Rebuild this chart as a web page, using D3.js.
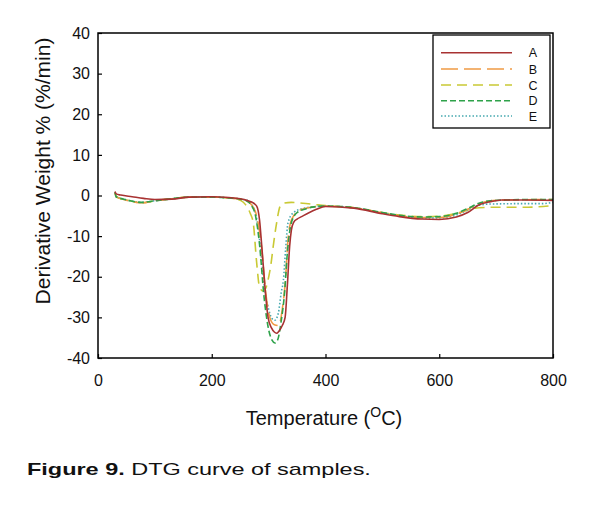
<!DOCTYPE html>
<html><head><meta charset="utf-8">
<script src="https://cdn.jsdelivr.net/npm/d3@7"></script>
<style>body{margin:0;background:#fff;} svg{display:block;font-family:"Liberation Sans",Arial,sans-serif;}</style>
</head><body>
<svg id="c" width="605" height="506"></svg>
<script>
const seriesNames = ["A","B","C","D","E"];
const seriesColors = ["#a83232","#f09a44","#c9c934","#2ea24a","#47a9b0"];
const seriesDash = ["none","17,6","10,6","6,3","1.5,2"];

const tA = [30,32,40,60,80,100,130,160,200,230,250,262,270,279,284,288,295,299,305,310,314,318,324,329,333,337,340,344,350,358,370,384,400,450,500,530,570,600,630,650,670,690,710,750,800];
const vA = [1.0,0.4,0.1,-0.3,-0.7,-1.0,-0.9,-0.4,-0.3,-0.5,-0.8,-1.2,-1.6,-2.6,-6,-12.6,-24.9,-30,-32.6,-33.6,-33.9,-33.4,-32,-30,-22,-12.4,-8.5,-6.6,-5.8,-5.2,-4.3,-3.4,-2.7,-3.1,-4.5,-5.2,-5.8,-5.9,-5.3,-4.2,-2.3,-1.5,-1.1,-1.1,-1.2];

const tB = [30,32,45,60,77,100,130,160,200,230,250,262,270,279,287,295,302,310,318,324,330,334,338,345,355,370,400,450,500,530,570,600,630,650,670,690,720,800];
const vB = [0.8,-0.3,-1.0,-1.5,-1.8,-1.3,-0.8,-0.4,-0.4,-0.6,-0.9,-1.3,-2.3,-5,-12,-24,-30,-31.8,-32,-28,-20,-11,-7,-4.8,-3.6,-3.0,-2.6,-3.0,-4.3,-5.0,-5.4,-5.4,-4.6,-3.4,-2.0,-1.3,-1.1,-1.0];

const tC = [30,32,50,77,100,130,160,200,230,245,255,263,268,273,279,284,290,295,299,304,308,314,320,326,340,360,380,400,450,500,530,570,600,630,650,670,700,750,800];
const vC = [0.8,-0.3,-1.1,-1.8,-1.3,-0.8,-0.4,-0.4,-0.6,-0.9,-1.6,-3,-4.5,-6.8,-16.6,-22.5,-23.5,-22.8,-20.8,-17,-12.6,-6.8,-2.7,-1.9,-1.7,-1.9,-2.2,-2.5,-3.0,-4.2,-4.8,-5.2,-5.1,-4.4,-3.6,-3.0,-2.9,-2.9,-2.5];

const tD = [30,32,45,60,77,100,130,160,200,230,250,262,270,277,284,292,300,306,311,316,322,328,333,338,345,352,365,380,400,450,500,530,570,600,630,650,670,690,720,760,800];
const vD = [0.8,-0.3,-0.9,-1.4,-1.7,-1.3,-0.8,-0.4,-0.4,-0.6,-0.9,-1.4,-2.5,-5,-12,-25,-33,-35.6,-36.3,-35.5,-31,-24,-14,-8,-5,-4.0,-3.3,-2.8,-2.6,-3.0,-4.2,-4.9,-5.3,-5.2,-4.4,-3.2,-1.9,-1.3,-1.1,-1.0,-1.0];

const tE = [30,32,45,60,77,100,130,160,200,230,250,262,270,278,285,292,300,306,311,317,322,326,330,334,343,360,400,450,500,530,570,600,630,650,670,690,750,780,800];
const vE = [0.8,-0.3,-0.9,-1.4,-1.7,-1.3,-0.8,-0.4,-0.4,-0.6,-0.9,-1.2,-2.2,-5,-12,-22,-28,-30.3,-30.7,-29,-24,-20.8,-13,-6.8,-4.3,-3.2,-2.6,-3.0,-4.3,-5.0,-5.5,-5.5,-4.8,-3.6,-2.4,-2.1,-2.0,-2.0,-1.7];

const xTicks = [0,200,400,600,800];
const yTicks = [-40,-30,-20,-10,0,10,20,30,40];

const seriesT = [tA,tB,tC,tD,tE];
const seriesV = [vA,vB,vC,vD,vE];

const svg = d3.select("#c");
const x = d3.scaleLinear().domain([0,800]).range([98,553]);
const y = d3.scaleLinear().domain([-40,40]).range([358,33]);

// axes
const gx = svg.append("g").attr("transform","translate(0,358)")
  .call(d3.axisBottom(x).tickValues(xTicks).tickFormat(d=>String(d)).tickSizeInner(-4).tickSizeOuter(0).tickPadding(17));
const gy = svg.append("g").attr("transform","translate(98,0)")
  .call(d3.axisLeft(y).tickValues(yTicks).tickFormat(d=>String(d)).tickSizeInner(-4).tickSizeOuter(0).tickPadding(8));
[gx,gy].forEach(g=>{
  g.select(".domain").remove();
  g.selectAll(".tick line").attr("stroke","#000").attr("stroke-width",1.2);
  g.selectAll(".tick text").attr("font-size",16).attr("fill","#111").attr("font-family","Liberation Sans, Arial, sans-serif");
});

// lines
const line = d3.line().x(d=>x(d[0])).y(d=>y(d[1])).curve(d3.curveMonotoneX);
const order = [2,4,1,3,0];
order.forEach(i=>{
  const pts = seriesT[i].map((t,j)=>[t,seriesV[i][j]]);
  svg.append("path").datum(pts).attr("d",line)
    .attr("fill","none").attr("stroke",seriesColors[i]).attr("stroke-width",1.6)
    .attr("stroke-dasharray",seriesDash[i]==="none"?null:seriesDash[i]);
});

// frame
svg.append("rect").attr("x",98).attr("y",33).attr("width",455).attr("height",325)
  .attr("fill","none").attr("stroke","#000").attr("stroke-width",1.5);

// legend
const lg = svg.append("g");
lg.append("rect").attr("x",433).attr("y",35).attr("width",117).attr("height",93)
  .attr("fill","#fff").attr("stroke","#000").attr("stroke-width",1.3);
const legY = [52.7,69,85,100.7,116];
seriesNames.forEach((n,i)=>{
  lg.append("line").attr("x1",441).attr("x2",512).attr("y1",legY[i]).attr("y2",legY[i])
    .attr("stroke",seriesColors[i]).attr("stroke-width",1.6)
    .attr("stroke-dasharray",seriesDash[i]==="none"?null:seriesDash[i]);
  lg.append("text").attr("x",533).attr("y",legY[i]+4.5).attr("text-anchor","middle")
    .attr("font-size",12.5).attr("fill","#111").text(n);
});

// axis titles
svg.append("text").attr("x",324).attr("y",425).attr("text-anchor","middle")
  .attr("font-size",20).attr("fill","#111")
  .html('Temperature (<tspan font-size="14" dy="-8">O</tspan><tspan dy="8">C)</tspan>');
svg.append("text").attr("transform","translate(50,171) rotate(-90)").attr("text-anchor","middle")
  .attr("font-size",21).attr("fill","#111").text("Derivative Weight % (%/min)");

// caption
const cap = svg.append("text").attr("transform","translate(27,475) scale(1.38,1)")
  .attr("font-size",17).attr("fill","#111");
cap.append("tspan").attr("font-weight","bold").text("Figure 9.");
cap.append("tspan").text(" DTG curve of samples.");
</script>
</body></html>
